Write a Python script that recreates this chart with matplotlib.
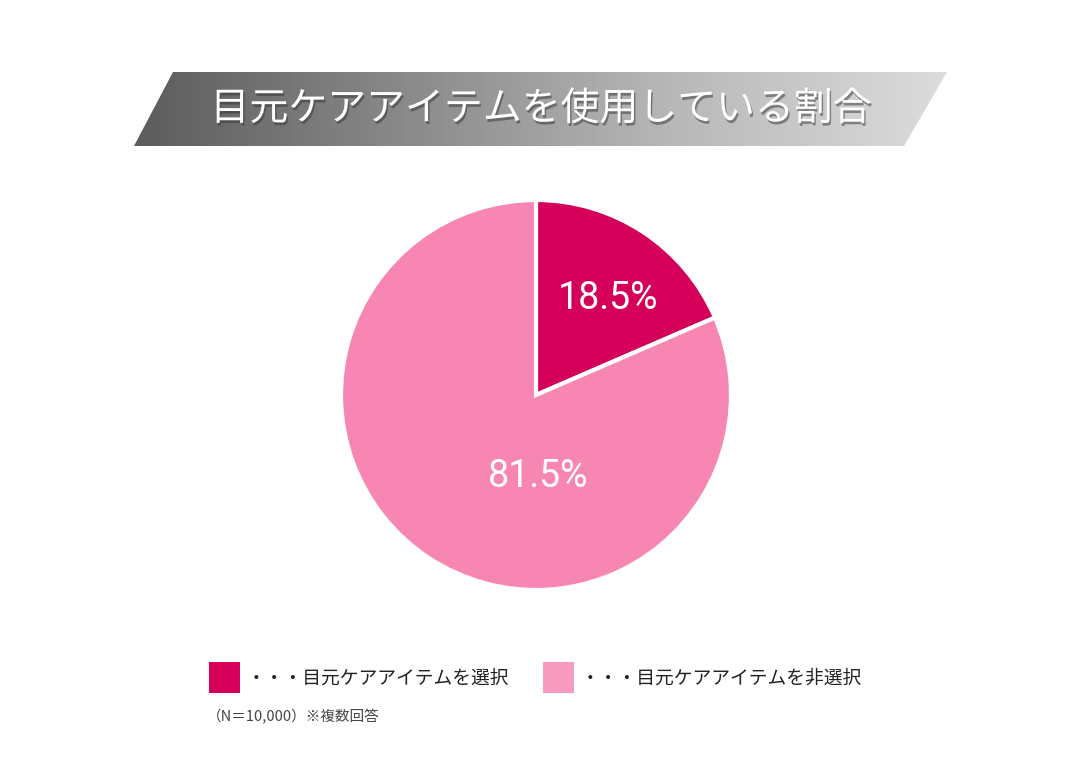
import numpy as np
import matplotlib
matplotlib.use("Agg")
import matplotlib.pyplot as plt
from matplotlib.patches import Polygon, Rectangle
import matplotlib.patheffects as pe

plt.rcParams['font.family'] = ['Noto Sans CJK JP', 'DejaVu Sans']

# ---- data ----
title = "目元ケアアイテムを使用している割合"
categories = ["目元ケアアイテムを選択", "目元ケアアイテムを非選択"]
values = [18.5, 81.5]
slice_colors = ["#D5005A", "#F886B2"]
legend_colors = ["#D6005A", "#F89BBF"]
footnote = "（N＝10,000）※複数回答"

W, H = 1080, 768
fig = plt.figure(figsize=(W / 100, H / 100), dpi=100)
fig.patch.set_facecolor("white")

# overlay axes in pixel coordinates (y downward)
bg = fig.add_axes([0, 0, 1, 1])
bg.set_xlim(0, W)
bg.set_ylim(H, 0)
bg.axis("off")

# title banner (parallelogram with gray gradient)
banner = Polygon([(173, 72), (947, 72), (904, 146), (134, 146)],
                 closed=True, facecolor="none", edgecolor="none")
bg.add_patch(banner)
grad = np.linspace(0, 1, 256).reshape(1, -1)
cmap = matplotlib.colors.LinearSegmentedColormap.from_list(
    "g", ["#5c5c5c", "#8a8a8a", "#b8b8b8", "#dcdcdc"])
im = bg.imshow(grad, extent=[134, 947, 146, 72], cmap=cmap, aspect="auto",
               interpolation="bicubic", zorder=1)
im.set_clip_path(banner)
bg.text(541, 109, title, color="white", fontsize=28, ha="center", va="center",
        zorder=3,
        path_effects=[pe.withSimplePatchShadow(offset=(1, -2), shadow_rgbFace="#333333", alpha=0.5)])

# legend
sq = 31
items_x = [209, 543]
for x0, col, lab in zip(items_x, legend_colors, categories):
    bg.add_patch(Rectangle((x0, 662), sq, sq, facecolor=col, edgecolor="none"))
    bg.text(x0 + 38, 678, "・・・" + lab, fontsize=13.5, color="#222222",
            ha="left", va="center")

bg.text(207, 717, footnote, fontsize=10.5, color="#444444", ha="left", va="center")

# pie
cx, cy, r = 536, 395, 195
pax = fig.add_axes([(cx - r) / W, (H - cy - r) / H, 2 * r / W, 2 * r / H])
wedges, _ = pax.pie(values, colors=slice_colors, startangle=90, counterclock=False,
                    radius=1.0,
                    wedgeprops=dict(edgecolor="white", linewidth=3, antialiased=True))
pax.set_xlim(-1.0, 1.0)
pax.set_ylim(-1.0, 1.0)
pax.set_aspect("equal")

# labels
w0 = wedges[0]
mid = np.deg2rad((w0.theta1 + w0.theta2) / 2)
pax.text(0.64 * np.cos(mid) + 0.02, 0.64 * np.sin(mid) - 0.04, f"{values[0]}%", color="white",
         fontsize=27, ha="center", va="center", family="Roboto")
pax.text(0.01, -0.42, f"{values[1]}%", color="white", fontsize=27,
         ha="center", va="center", family="Roboto")

fig.savefig("out.png", dpi=100, facecolor="white")
